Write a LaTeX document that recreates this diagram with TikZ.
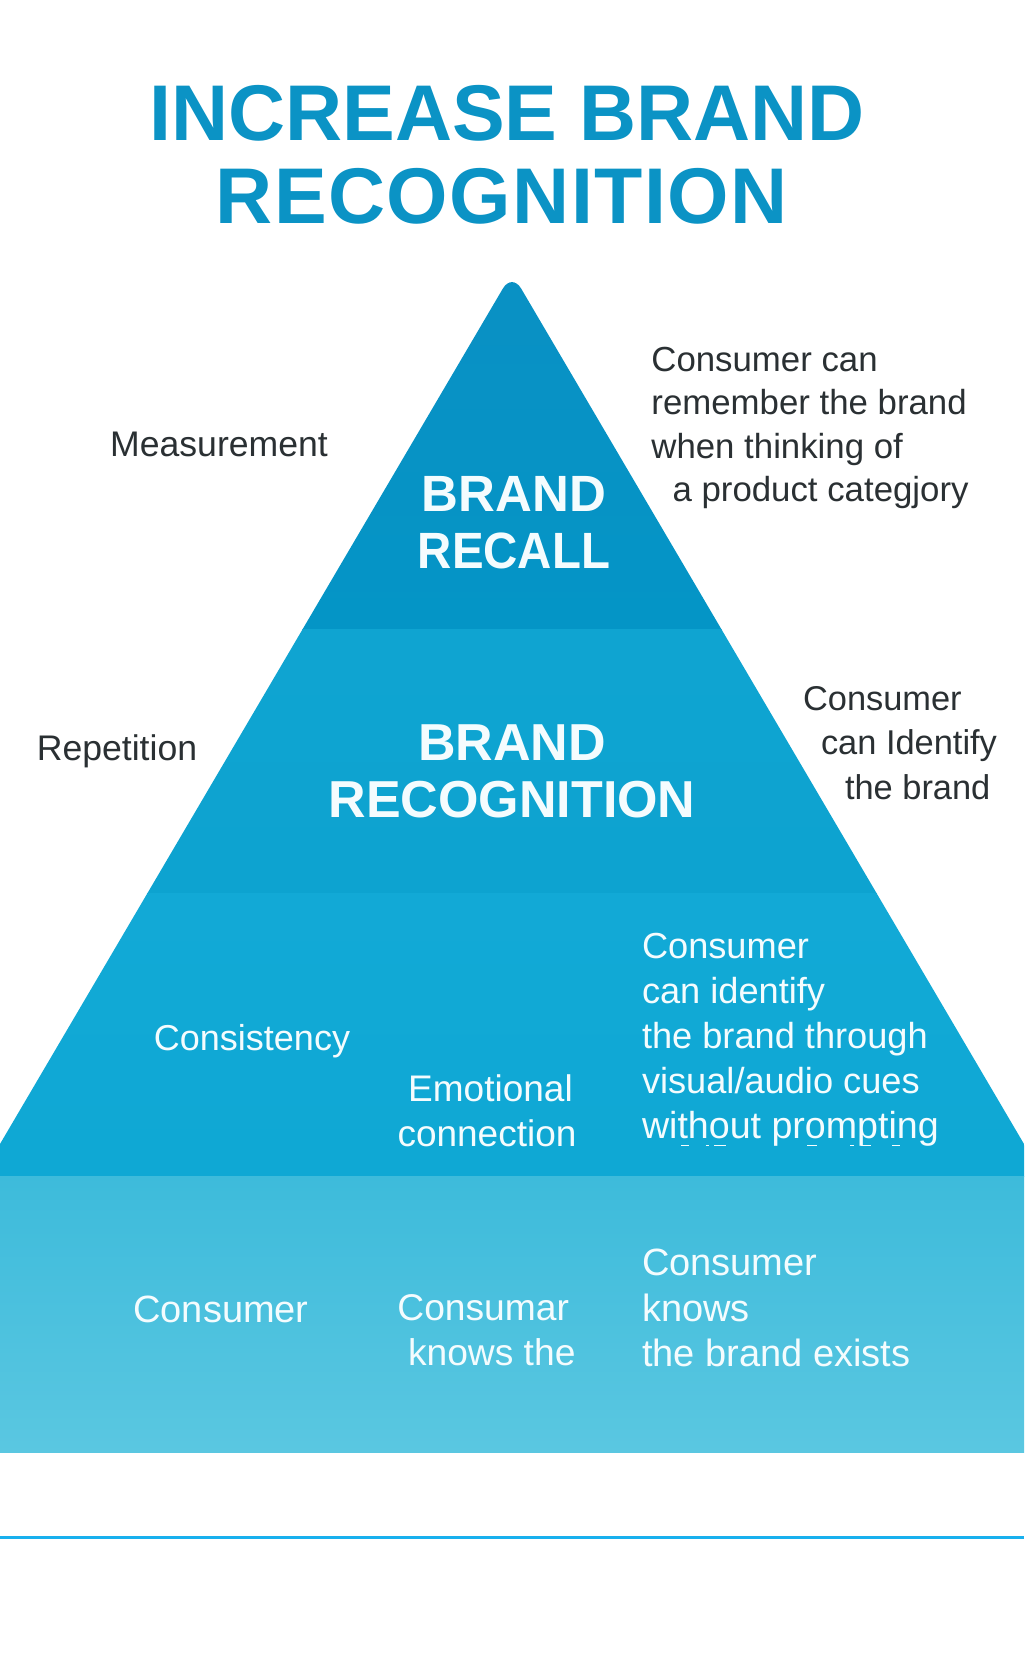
\documentclass[tikz,border=0pt]{standalone}
\usepackage{fontspec}
\setmainfont{Liberation Sans}
\definecolor{titleblue}{HTML}{0B93C5}
\definecolor{inktext}{HTML}{2A3033}
\definecolor{whitetext}{HTML}{F4FCFE}
\definecolor{ruleblue}{HTML}{18B0EE}
\definecolor{tA}{HTML}{0A90C4}
\definecolor{tAb}{HTML}{0495C6}
\definecolor{tB}{HTML}{0FA4D1}
\definecolor{tBb}{HTML}{0DA3D0}
\definecolor{tC}{HTML}{12A9D6}
\definecolor{tCb}{HTML}{0FA8D4}
\definecolor{tD}{HTML}{3DBBDB}
\definecolor{tDb}{HTML}{5AC7E1}
\newcommand{\fs}[2]{\fontsize{#1}{#2}\selectfont}
\tikzset{
  x=0.5pt,y=-0.5pt,
  titletext/.style={font=\fs{39.5}{41.5}\bfseries,text=titleblue,align=center,inner sep=0},
  tiertitle/.style={font=\fs{26}{28.5}\bfseries,text=whitetext,align=center,inner sep=0},
  darklabel/.style={font=\fs{17.4}{21.7},text=inktext,align=left,inner sep=0},
  lightlabel/.style={font=\fs{18.1}{22.5},text=whitetext,align=left,inner sep=0},
}
\begin{document}
\begin{tikzpicture}
\useasboundingbox (0,0) rectangle (1024,1666);
\fill[white] (0,0) rectangle (1024,1666);
\begin{scope}
  \clip[rounded corners=9pt] (512,273) -- (1115.7,1300) -- (-91.7,1300) -- cycle;
  \shade[top color=tA,bottom color=tAb] (0,250) rectangle (1024,629);
  \shade[top color=tB,bottom color=tBb] (0,629) rectangle (1024,893);
  \shade[top color=tC,bottom color=tCb] (0,893) rectangle (1024,1176);
\end{scope}
\shade[top color=tD,bottom color=tDb] (0,1176) rectangle (1024,1452);
\draw[ruleblue,line width=1.5pt] (0,1537) -- (1024,1537);

\node[titletext] (title) at (507,155) {INCREASE BRAND\\\hspace*{-5.2pt}{\addfontfeature{LetterSpace=1.85}RECOGNITION}};
\node[tiertitle,font=\fs{25.5}{28.5}\bfseries] (recall) at (514,523) {BRAND\\\scalebox{0.93}[1]{RECALL}};
\node[tiertitle] (recog) at (512,771) {BRAND\\RECOGNITION};
\node[darklabel,font=\fs{17.8}{21.7}] (measure) at (219,444) {Measurement};
\node[darklabel,font=\fs{17.8}{21.7}] (repeat) at (117,751) {Repetition};
\node[darklabel] (rcopy) at (810,428) {Consumer can\\remember the brand\\when thinking of\\\hspace*{10.6pt}a product categjory};
\node[darklabel,font=\fs{17.2}{22.3}] (icopy) at (900,743) {Consumer\\\hspace*{9pt}can Identify\\\hspace*{21pt}the brand};
\node[lightlabel,font=\fs{18}{22.5}] (consist) at (252,1041) {Consistency};
\node[lightlabel,align=center,font=\fs{18.5}{22.4}] (emotion) at (487,1111) {\hspace*{3.5pt}Emotional\\connection};
\node[lightlabel,anchor=west] (ccopy) at (641.6,1040) {Consumer\\can identify\\the brand through\\visual/audio cues\\{\fs{18.8}{22.5}without prompting}};
\node[lightlabel,font=\fs{19}{22.8}] (cons) at (221,1309) {Consumer};
\node[lightlabel,anchor=west,font=\fs{18.6}{22.4}] (consumar) at (397,1330) {Consumar\\\hspace*{5.3pt}knows the};
\node[lightlabel,anchor=west,font=\fs{19}{22.8}] (kcopy) at (641.6,1308) {Consumer\\knows\\the brand exists};
\foreach \mx/\mw in {685/4,707/1.5,720/6,812/5,852/2,866/5,896/4}
  \draw[whitetext,line width=0.5pt] (\mx-\mw,1145) -- (\mx+\mw,1145);
\end{tikzpicture}
\end{document}
